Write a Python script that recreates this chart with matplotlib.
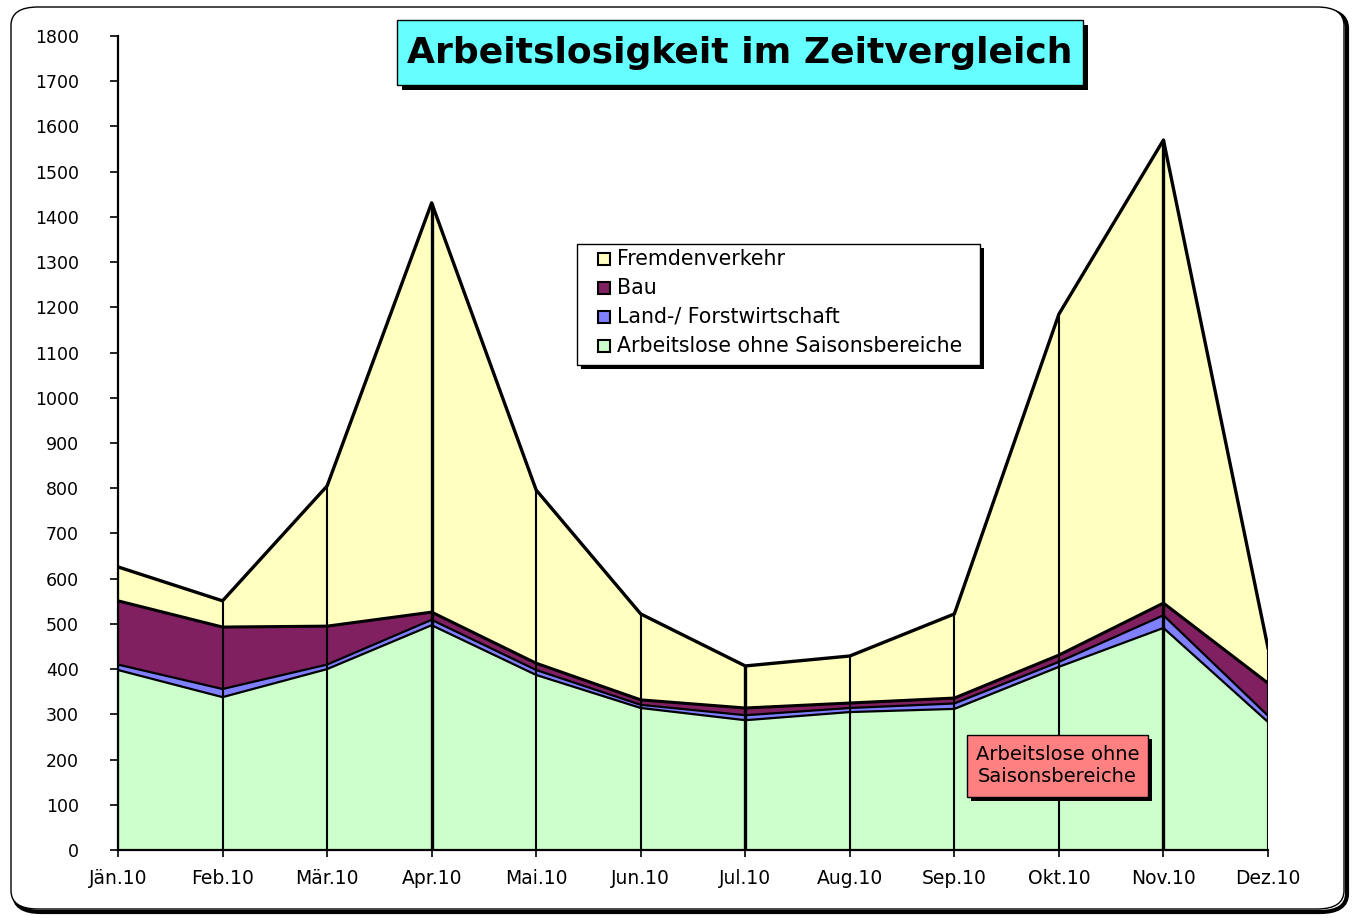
import numpy as np
import matplotlib.pyplot as plt
from matplotlib.patches import FancyBboxPatch, Rectangle

# data
months = ["Jän.10", "Feb.10", "Mär.10", "Apr.10", "Mai.10", "Jun.10",
          "Jul.10", "Aug.10", "Sep.10", "Okt.10", "Nov.10", "Dez.10"]
ohne_saison = [398, 338, 400, 497, 387, 314, 287, 305, 312, 405, 491, 283]
land_forst = [12, 18, 10, 12, 11, 7, 11, 9, 12, 11, 28, 14]
bau = [141, 137, 85, 17, 15, 11, 16, 11, 12, 15, 27, 72]
fremdenverkehr = [75, 58, 310, 905, 383, 190, 93, 104, 186, 754, 1024, 78]

series = [ohne_saison, land_forst, bau, fremdenverkehr]
names = ["Arbeitslose ohne Saisonsbereiche", "Land-/ Forstwirtschaft", "Bau", "Fremdenverkehr"]
colors = ["#CCFFCC", "#8080FF", "#802060", "#FFFFC0"]
line_w = [1.6, 1.6, 2.2, 2.4]

W, H = 1353, 918
fig = plt.figure(figsize=(W / 100, H / 100), dpi=100)

# outer rounded frame with shadow
fig.patches.append(FancyBboxPatch((14 / W, 6 / H), 1333 / W, 902 / H,
                                  boxstyle="round,pad=0,rounding_size=0.02",
                                  transform=fig.transFigure, facecolor="none",
                                  edgecolor="black", lw=3.0, zorder=-2))
fig.patches.append(FancyBboxPatch((11 / W, 9 / H), 1333 / W, 902 / H,
                                  boxstyle="round,pad=0,rounding_size=0.02",
                                  transform=fig.transFigure, facecolor="white",
                                  edgecolor="black", lw=1.0, zorder=-1))

ax = fig.add_axes([118 / W, (H - 850) / H, 1150 / W, 814 / H])
ax.set_facecolor("none")
x = np.arange(len(months))

bottom = np.zeros(len(months))
for vals, name, c, lw in zip(series, names, colors, line_w):
    top = bottom + np.array(vals)
    ax.fill_between(x, bottom, top, facecolor=c, edgecolor="none", label=name, zorder=2)
    ax.plot(x, top, color="black", lw=lw, zorder=4)
    bottom = top

# drop lines
for i in x:
    w = 2.4 if months[i] in ("Apr.10", "Jul.10", "Nov.10") else 1.5
    ax.vlines(i, 0, bottom[i], color="black", lw=w, zorder=3)

ax.set_xlim(0, len(months) - 1)
ax.set_ylim(0, 1800)
ax.set_yticks(np.arange(0, 1801, 100))
ax.set_xticks(x)
ax.set_xticklabels(months, fontsize=13.5, family="DejaVu Sans")
ax.tick_params(axis="y", labelsize=12.5, length=6, width=1.2, pad=22)
ax.tick_params(axis="x", length=5, width=1.2, pad=9)
for lab in ax.get_yticklabels():
    lab.set_horizontalalignment("right")
ax.spines["top"].set_visible(False)
ax.spines["right"].set_visible(False)
ax.spines["left"].set_linewidth(1.6)
ax.spines["bottom"].set_linewidth(1.6)
ax.spines["left"].set_zorder(5)

# title box
tx0, ty0, tw, th = 397, 20, 686, 65
fig.patches.append(Rectangle(((tx0 + 5) / W, (H - ty0 - th - 5) / H), tw / W, th / H,
                             transform=fig.transFigure, facecolor="black", zorder=5))
fig.patches.append(Rectangle((tx0 / W, (H - ty0 - th) / H), tw / W, th / H,
                             transform=fig.transFigure, facecolor="#66FFFF",
                             edgecolor="black", lw=1.0, zorder=6))
fig.text((tx0 + tw / 2) / W, (H - ty0 - th / 2) / H, "Arbeitslosigkeit im Zeitvergleich",
         ha="center", va="center", fontsize=26, fontweight="bold",
         family="DejaVu Sans", zorder=7)

# legend box
lx0, ly0, lw_, lh = 577, 244, 403, 121
fig.patches.append(Rectangle(((lx0 + 4) / W, (H - ly0 - lh - 4) / H), lw_ / W, lh / H,
                             transform=fig.transFigure, facecolor="black", zorder=5))
fig.patches.append(Rectangle((lx0 / W, (H - ly0 - lh) / H), lw_ / W, lh / H,
                             transform=fig.transFigure, facecolor="white",
                             edgecolor="black", lw=1.0, zorder=6))
leg_rows = list(zip(names[::-1], colors[::-1]))
for k, (name, c) in enumerate(leg_rows):
    yy = 259 + k * 29
    fig.patches.append(Rectangle((598 / W, (H - yy - 6) / H), 12 / W, 12 / H,
                                 transform=fig.transFigure, facecolor=c,
                                 edgecolor="black", lw=1.5, zorder=7))
    fig.text(617 / W, (H - yy) / H, name, ha="left", va="center", fontsize=14.8,
             family="DejaVu Sans", zorder=7)

# annotation box
ax0, ay0, aw, ah = 967, 735, 181, 62
fig.patches.append(Rectangle(((ax0 + 4) / W, (H - ay0 - ah - 4) / H), aw / W, ah / H,
                             transform=fig.transFigure, facecolor="black", zorder=5))
fig.patches.append(Rectangle((ax0 / W, (H - ay0 - ah) / H), aw / W, ah / H,
                             transform=fig.transFigure, facecolor="#FF8080",
                             edgecolor="black", lw=1.0, zorder=6))
fig.text((ax0 + aw / 2) / W, (H - ay0 - ah / 2) / H, "Arbeitslose ohne\nSaisonsbereiche",
         ha="center", va="center", fontsize=14, family="DejaVu Sans",
         linespacing=1.2, zorder=7)

fig.savefig("out.png", dpi=100)
